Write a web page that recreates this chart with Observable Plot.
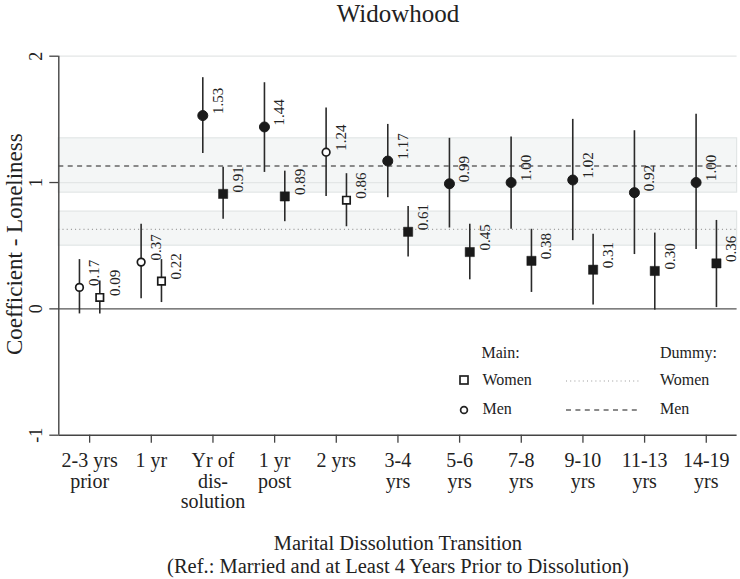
<!DOCTYPE html>
<html>
<head>
<meta charset="utf-8">
<script src="https://cdn.jsdelivr.net/npm/d3@7"></script>
<script src="https://cdn.jsdelivr.net/npm/@observablehq/plot@0.6"></script>
<style>
  body { margin: 0; background: #fff; }
  #wrap { position: relative; width: 740px; height: 579px; font-family: "Liberation Serif", "Times New Roman", serif; color: #1a1a1a; }
  #wrap svg { display: block; }
  .lg { position: absolute; font-size: 16px; line-height: 18px; white-space: nowrap; color: #222; }
  .lgsym { position: absolute; overflow: visible; }
</style>
</head>
<body>
<div id="wrap"></div>
<script>
// ---- Data ----
const title = "Widowhood";
const yTitle = "Coefficient - Loneliness";
const xTitle = "Marital Dissolution Transition\n(Ref.: Married and at Least 4 Years Prior to Dissolution)";
const categories = ["2-3 yrs\nprior", "1 yr", "Yr of\ndis-\nsolution", "1 yr\npost", "2 yrs", "3-4\nyrs", "5-6\nyrs", "7-8\nyrs", "9-10\nyrs", "11-13\nyrs", "14-19\nyrs"];
const menCoef   = [0.17, 0.37, 1.53, 1.44, 1.24, 1.17, 0.99, 1.00, 1.02, 0.92, 1.00];
const menLow    = [-0.04, 0.08, 1.23, 1.08, 0.89, 0.88, 0.64, 0.63, 0.54, 0.43, 0.47];
const menHigh   = [0.39, 0.67, 1.83, 1.79, 1.59, 1.46, 1.35, 1.36, 1.50, 1.41, 1.54];
const menSig    = [false, false, true, true, false, true, true, true, true, true, true];
const womenCoef = [0.09, 0.22, 0.91, 0.89, 0.86, 0.61, 0.45, 0.38, 0.31, 0.30, 0.36];
const womenLow  = [-0.04, 0.05, 0.71, 0.69, 0.65, 0.41, 0.23, 0.13, 0.03, -0.01, 0.01];
const womenHigh = [0.22, 0.39, 1.12, 1.09, 1.07, 0.81, 0.67, 0.63, 0.59, 0.60, 0.70];
const womenSig  = [false, false, true, true, false, true, true, true, true, true, true];
const dummyGroups = ["Women", "Men"];
const dummyCoef = [0.63, 1.13];
const dummyLow  = [0.50, 0.92];
const dummyHigh = [0.77, 1.35];
const yTicks = [-1, 0, 1, 2];
const gridTicks = [1, 2];

// ---- Build tables ----
const xDomain = [-0.5, categories.length - 0.5];
const offset = 0.165;
const rows = [];
categories.forEach((c, i) => {
  rows.push({i, sex: "Men", x: i - offset, coef: menCoef[i], low: menLow[i], high: menHigh[i], sig: menSig[i]});
  rows.push({i, sex: "Women", x: i + offset, coef: womenCoef[i], low: womenLow[i], high: womenHigh[i], sig: womenSig[i]});
});
const dummy = dummyGroups.map((g, k) => ({group: g, coef: dummyCoef[k], low: dummyLow[k], high: dummyHigh[k]}));

const ink = "#1a1a1a";
const sel = (sex, sig) => rows.filter(d => d.sex === sex && d.sig === sig);

const chart = Plot.plot({
  width: 740,
  height: 579,
  marginTop: 55.7,
  marginBottom: 144.3,
  marginLeft: 58.3,
  marginRight: 3.4,
  style: {fontFamily: "'Liberation Serif', 'Times New Roman', serif", background: "#fff", color: ink, overflow: "visible"},
  x: {domain: xDomain, axis: null},
  y: {domain: [-1, 2], axis: null},
  marks: [
    // dummy confidence bands
    Plot.rect(dummy, {x1: xDomain[0], x2: xDomain[1], y1: "low", y2: "high", fill: "#f4f6f6", stroke: "#e2e6e6", strokeWidth: 1.2}),
    // gridlines
    Plot.ruleY(gridTicks, {stroke: "#e3e6e6", strokeWidth: 1.3}),
    // zero line
    Plot.ruleY([0], {stroke: "#555", strokeWidth: 1.4}),
    // dummy estimate lines
    Plot.ruleY(dummy.filter(d => d.group === "Men"), {y: "coef", stroke: "#666", strokeWidth: 1.5, strokeDasharray: "5,4.4"}),
    Plot.ruleY(dummy.filter(d => d.group === "Women"), {y: "coef", stroke: "#999", strokeWidth: 1.2, strokeDasharray: "1,3.2"}),
    // axis lines
    Plot.ruleY([-1], {stroke: "#444", strokeWidth: 1.4}),
    Plot.ruleX([xDomain[0]], {y1: -1, y2: 2, stroke: "#444", strokeWidth: 1.4}),
    // confidence intervals
    Plot.ruleX(rows, {x: "x", y1: "low", y2: "high", stroke: "#2a2a2a", strokeWidth: 1.6}),
    // point estimates
    Plot.dot(sel("Men", true), {x: "x", y: "coef", symbol: "circle", r: 5, fill: ink, stroke: ink, strokeWidth: 1}),
    Plot.dot(sel("Men", false), {x: "x", y: "coef", symbol: "circle", r: 3.8, fill: "#fff", stroke: ink, strokeWidth: 1.7}),
    Plot.dot(sel("Women", true), {x: "x", y: "coef", symbol: "square", r: 5.2, fill: ink, stroke: ink, strokeWidth: 0.5}),
    Plot.dot(sel("Women", false), {x: "x", y: "coef", symbol: "square", r: 4.2, fill: "#fff", stroke: ink, strokeWidth: 1.7}),
    // value labels
    Plot.text(rows, {x: "x", y: "coef", text: d => d.coef.toFixed(2), rotate: -90, textAnchor: "start", lineAnchor: "middle", dx: 15, dy: -1.5, fontSize: 15, fill: "#222"}),
    // x axis
    Plot.axisX(d3.range(categories.length), {label: null, tickFormat: i => categories[i], tickSize: 8, tickPadding: 9.5, fontSize: 20, lineHeight: 1.02, stroke: "#444", strokeWidth: 1.3, fill: "#222"}),
    // y axis ticks and rotated labels
    Plot.axisY(yTicks, {label: null, tickSize: 9, tickFormat: () => "", stroke: "#444", strokeWidth: 1.3}),
    Plot.text(yTicks, {y: d => d, text: d => d < 0 ? "-" + Math.abs(d) : String(d), frameAnchor: "left", dx: -16.6, rotate: -90, textAnchor: "middle", lineAnchor: "bottom", fontSize: 18, fill: "#222"}),
    // titles
    Plot.text([title], {frameAnchor: "top", dy: -34, textAnchor: "middle", lineAnchor: "bottom", fontSize: 25, fill: "#222"}),
    Plot.text([xTitle], {frameAnchor: "bottom", dy: 99, textAnchor: "middle", lineAnchor: "top", lineHeight: 1.1, fontSize: 20.5, fill: "#222"}),
    Plot.text([yTitle], {frameAnchor: "left", dx: -36.6, dy: -1.5, rotate: -90, textAnchor: "middle", lineAnchor: "bottom", fontSize: 23, fill: "#222"})
  ]
});

const wrap = document.getElementById("wrap");
wrap.appendChild(chart);

// ---- Legend (HTML overlay inside the plot area) ----
function addText(txt, left, cy) {
  const s = document.createElement("div");
  s.className = "lg";
  s.textContent = txt;
  s.style.left = left + "px";
  s.style.top = (cy - 9) + "px";
  wrap.appendChild(s);
}
function addSvg(html, left, top, w, h) {
  const ns = "http://www.w3.org/2000/svg";
  const s = document.createElementNS(ns, "svg");
  s.setAttribute("class", "lgsym");
  s.setAttribute("width", w);
  s.setAttribute("height", h);
  s.style.left = left + "px";
  s.style.top = top + "px";
  s.innerHTML = html;
  wrap.appendChild(s);
}
addText("Main:", 481.5, 353);
addText("Women", 482.5, 380);
addText("Men", 482.5, 409);
addText("Dummy:", 660, 353);
addText("Women", 660, 380);
addText("Men", 660, 409);
addSvg('<rect x="1" y="1" width="8" height="8" fill="#fff" stroke="#222" stroke-width="1.7"/>', 459, 374.5, 10, 10);
addSvg('<circle cx="5" cy="5" r="3.4" fill="#fff" stroke="#222" stroke-width="1.7"/>', 459, 404.5, 10, 10);
addSvg('<line x1="0" y1="2" x2="75" y2="2" stroke="#999" stroke-width="1.2" stroke-dasharray="1,3.2"/>', 565.5, 378.5, 76, 4);
addSvg('<line x1="0" y1="2" x2="75" y2="2" stroke="#666" stroke-width="1.5" stroke-dasharray="5,4.4"/>', 565.5, 407.5, 76, 4);
</script>
</body>
</html>
